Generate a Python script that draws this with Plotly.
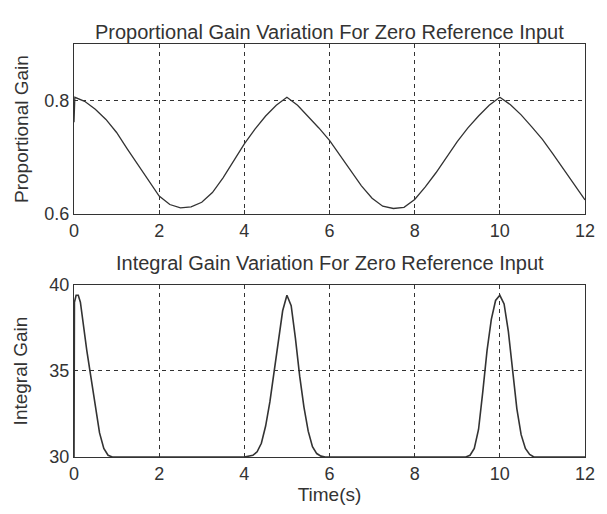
import plotly.graph_objects as go
from plotly.subplots import make_subplots

# Proportional gain (top panel)
t_prop = [0, 0.02, 0.25, 0.5, 0.75, 1.0, 1.25, 1.5, 1.75, 2.0, 2.25, 2.5, 2.75, 3.0,
          3.25, 3.5, 3.75, 4.0, 4.25, 4.5, 4.75, 5.0, 5.25, 5.5, 5.75, 6.0, 6.25,
          6.5, 6.75, 7.0, 7.25, 7.5, 7.75, 8.0, 8.25, 8.5, 8.75, 9.0, 9.25, 9.5,
          9.75, 10.0, 10.25, 10.5, 10.75, 11.0, 11.25, 11.5, 11.75, 12.0]
kp = [0.762, 0.806, 0.799, 0.785, 0.767, 0.744, 0.715, 0.688, 0.659, 0.632, 0.617,
      0.611, 0.613, 0.621, 0.638, 0.664, 0.694, 0.724, 0.750, 0.773, 0.792, 0.806,
      0.792, 0.772, 0.752, 0.730, 0.703, 0.676, 0.650, 0.628, 0.614, 0.610, 0.612,
      0.626, 0.648, 0.673, 0.700, 0.728, 0.752, 0.773, 0.792, 0.806, 0.793, 0.775,
      0.754, 0.732, 0.706, 0.678, 0.652, 0.625]

# Integral gain (bottom panel)
t_int = [0, 0.01, 0.05, 0.1, 0.15, 0.2, 0.3, 0.4, 0.5, 0.6, 0.7, 0.8, 0.9,
         4.0, 4.2, 4.3, 4.4, 4.5, 4.6, 4.7, 4.8, 4.9, 5.0, 5.1, 5.2, 5.3, 5.4,
         5.5, 5.6, 5.7, 5.8, 5.9, 9.2, 9.3, 9.4, 9.5, 9.6, 9.7, 9.8, 9.9, 10.0,
         10.1, 10.2, 10.3, 10.4, 10.5, 10.6, 10.7, 10.8, 10.9, 12.0]
ki = [30.0, 39.0, 39.4, 39.4, 39.0, 38.0, 36.2, 34.6, 32.9, 31.4, 30.5, 30.1, 30.0,
      30.0, 30.1, 30.3, 30.8, 31.8, 33.2, 35.0, 36.9, 38.5, 39.4, 38.8, 36.9, 34.7,
      32.9, 31.5, 30.6, 30.2, 30.05, 30.0, 30.0, 30.1, 30.5, 31.6, 33.8, 36.2, 38.0,
      39.1, 39.4, 38.9, 37.3, 35.0, 32.8, 31.3, 30.5, 30.15, 30.0, 30.0, 30.0]

x_ticks = [0, 2, 4, 6, 8, 10, 12]
kp_ticks = [0.6, 0.8]
ki_ticks = [30, 35, 40]

title_top = "Proportional Gain Variation For Zero Reference Input"
title_bot = "Integral Gain Variation For Zero Reference Input"

ink = "#333333"
font = "Liberation Sans"

fig = make_subplots(rows=2, cols=1, vertical_spacing=0.0)
fig.add_trace(go.Scatter(x=t_prop, y=kp, mode="lines",
                         line=dict(color=ink, width=1.3), showlegend=False), row=1, col=1)
fig.add_trace(go.Scatter(x=t_int, y=ki, mode="lines",
                         line=dict(color=ink, width=1.6), showlegend=False), row=2, col=1)

ax_common = dict(showline=True, mirror=True, linecolor=ink, linewidth=1.3,
                 showgrid=True, gridcolor=ink, gridwidth=1, griddash="4px,4px",
                 ticks="inside", ticklen=4, tickcolor=ink, zeroline=False,
                 tickfont=dict(family=font, size=18, color=ink))

fig.update_xaxes(range=[0, 12], tickvals=x_ticks, **ax_common)
fig.update_yaxes(**ax_common)
fig.update_yaxes(range=[0.6, 0.9], tickvals=kp_ticks, ticktext=["0.6", "0.8"],
                 domain=[0.588, 1.0], row=1, col=1,
                 title=dict(text="Proportional Gain", standoff=10,
                            font=dict(family=font, size=19, color=ink)))
fig.update_yaxes(range=[30, 40], tickvals=ki_ticks, domain=[0.0, 0.4165], row=2, col=1,
                 title=dict(text="Integral Gain", standoff=16,
                            font=dict(family=font, size=19, color=ink)))
fig.update_xaxes(row=2, col=1,
                 title=dict(text="Time(s)", standoff=2,
                            font=dict(family=font, size=19, color=ink)))

fig.update_layout(
    width=599, height=506,
    margin=dict(l=65, r=19, t=36, b=57),
    paper_bgcolor="white", plot_bgcolor="white",
    font=dict(family=font, color=ink),
    annotations=[
        dict(text=title_top, xref="paper", yref="paper", x=0.5, y=1.0, yshift=25,
             showarrow=False, font=dict(family=font, size=20, color=ink)),
        dict(text=title_bot, xref="paper", yref="paper", x=0.5, y=0.588, yshift=-49,
             showarrow=False, font=dict(family=font, size=20, color=ink)),
    ],
)

fig.write_html("out.html")
